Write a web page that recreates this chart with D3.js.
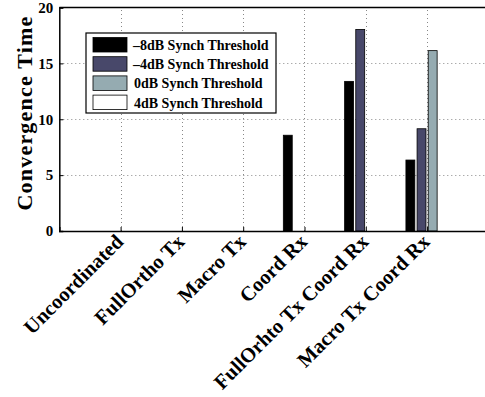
<!DOCTYPE html>
<html>
<head>
<meta charset="utf-8">
<script src="https://cdn.jsdelivr.net/npm/d3@7"></script>
<style>
  body { margin: 0; background: #fff; }
  svg { display: block; }
  text { font-family: "Liberation Serif", "Times New Roman", serif; font-weight: bold; }
</style>
</head>
<body>
<svg id="chart" width="485" height="397"></svg>
<script>
var categories = ["Uncoordinated", "FullOrtho Tx", "Macro Tx", "Coord Rx", "FullOrhto Tx Coord Rx", "Macro Tx Coord Rx"];
var seriesNames = ["–8dB Synch Threshold", "–4dB Synch Threshold", "0dB Synch Threshold", "4dB Synch Threshold"];
var minus8 = [0, 0, 0, 8.57, 13.39, 6.35];
var minus4 = [0, 0, 0, 0, 18.04, 9.15];
var zero0 = [0, 0, 0, 0, 0, 16.14];
var plus4 = [0, 0, 0, 0, 0, 0];
var yTicks = [0, 5, 10, 15, 20];
var colors = ["#000000", "#48486a", "#95abb1", "#ffffff"];

var series = [minus8, minus4, zero0, plus4];

var svg = d3.select("#chart");

var plotLeft = 59.3, plotTop = 7.5, plotBottom = 231;
var unit = 61.3;

var x = d3.scaleLinear().domain([0, 7]).range([plotLeft, plotLeft + 7 * unit]);
var y = d3.scaleLinear().domain([0, 20]).range([plotBottom, plotTop]);

// grid
var grid = svg.append("g")
    .attr("stroke", "#888")
    .attr("stroke-width", 1)
    .attr("stroke-dasharray", "1,3");

grid.selectAll("line.gx")
    .data(categories)
    .enter()
    .append("line")
    .attr("x1", function (d, i) { return Math.round(x(i + 1)) + 0.5; })
    .attr("x2", function (d, i) { return Math.round(x(i + 1)) + 0.5; })
    .attr("y1", y(0))
    .attr("y2", y(20));

grid.selectAll("line.gy")
    .data(yTicks.slice(1, -1))
    .enter()
    .append("line")
    .attr("x1", x(0))
    .attr("x2", x(7))
    .attr("y1", function (d) { return Math.round(y(d)) + 0.5; })
    .attr("y2", function (d) { return Math.round(y(d)) + 0.5; });

// bars (MATLAB style grouped bars)
var n = series.length;
var groupWidth = Math.min(0.8, n / (n + 1.5));
var barWidth = groupWidth / n * 0.8;

series.forEach(function (values, s) {
    var offset = (s - (n - 1) / 2) * groupWidth / n;
    svg.append("g")
        .selectAll("rect")
        .data(values)
        .enter()
        .append("rect")
        .attr("x", function (d, i) { return x(i + 1 + offset - barWidth / 2); })
        .attr("width", x(barWidth) - x(0))
        .attr("y", function (d) { return y(d); })
        .attr("height", function (d) { return y(0) - y(d); })
        .attr("fill", colors[s])
        .attr("stroke", "#000")
        .attr("stroke-width", function (d) { return d > 0 ? 0.8 : 0; });
});

// axes
var yAxis = d3.axisLeft(y).tickValues(yTicks).tickSize(-4).tickPadding(6).tickFormat(d3.format("d"));
var gy = svg.append("g")
    .attr("transform", "translate(" + plotLeft + ",0)")
    .call(yAxis);
gy.select(".domain").attr("stroke-width", 1.5);
gy.selectAll(".tick text").attr("font-size", 15).attr("fill", "#000");

var xAxis = d3.axisBottom(x).tickValues(d3.range(1, 7)).tickSize(-4).tickFormat("");
var gx = svg.append("g")
    .attr("transform", "translate(0," + plotBottom + ")")
    .call(xAxis);
gx.select(".domain").attr("stroke-width", 1.5);

svg.append("line")
    .attr("x1", plotLeft).attr("x2", x(7))
    .attr("y1", plotTop).attr("y2", plotTop)
    .attr("stroke", "#000").attr("stroke-width", 1.5);

// rotated category labels
svg.append("g")
    .selectAll("text")
    .data(categories)
    .enter()
    .append("text")
    .attr("transform", function (d, i) {
        return "translate(" + (x(i + 1) - 1) + "," + (plotBottom + 7) + ") rotate(-45)";
    })
    .attr("text-anchor", "end")
    .attr("dominant-baseline", "central")
    .attr("font-size", 20.5)
    .text(function (d) { return d; });

// y label
svg.append("text")
    .attr("transform", "translate(24,113) rotate(-90)")
    .attr("text-anchor", "middle")
    .attr("dominant-baseline", "central")
    .attr("font-size", 22)
    .attr("letter-spacing", 1.2)
    .text("Convergence Time");

// legend
var legend = svg.append("g").attr("transform", "translate(86,33)");
legend.append("rect")
    .attr("width", 190).attr("height", 80)
    .attr("fill", "#fff").attr("stroke", "#000").attr("stroke-width", 1.2);

var rows = legend.selectAll("g.row")
    .data(seriesNames)
    .enter()
    .append("g")
    .attr("transform", function (d, i) { return "translate(0," + (4.5 + i * 19.2) + ")"; });

rows.append("rect")
    .attr("x", 7).attr("width", 34).attr("height", 14.5)
    .attr("fill", function (d, i) { return colors[i]; })
    .attr("stroke", "#000").attr("stroke-width", 0.8);

rows.append("text")
    .attr("x", function (d) { return d.charAt(0) === "–" ? 47 : 48; })
    .attr("y", 8)
    .attr("dominant-baseline", "central")
    .attr("font-size", 14)
    .text(function (d) { return d; });
</script>
</body>
</html>
